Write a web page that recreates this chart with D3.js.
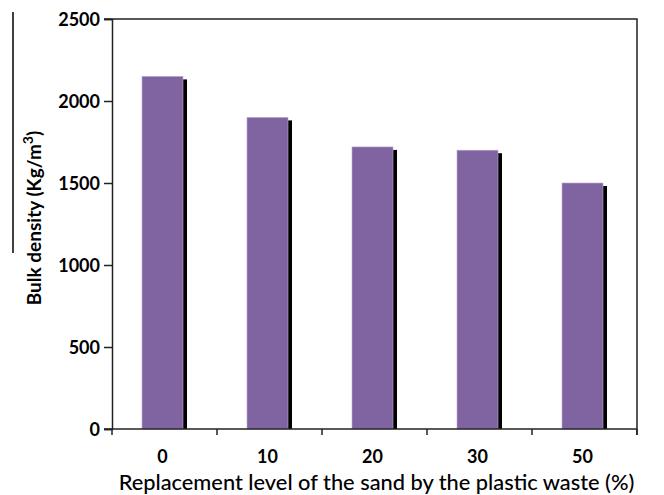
<!DOCTYPE html>
<html>
<head>
<meta charset="utf-8">
<script src="https://cdn.jsdelivr.net/npm/d3@7"></script>
<style>
  html, body { margin: 0; padding: 0; background: #fff; }
  svg { display: block; }
  text { font-family: Lato, "Open Sans", sans-serif; fill: #000; }
</style>
</head>
<body>
<svg id="chart" width="664" height="495"></svg>
<script>
// Bulk density of mixes by sand replacement level
const categories = ["0", "10", "20", "30", "50"];
const densities = [2150, 1900, 1720, 1700, 1500];
const yTicks = [0, 500, 1000, 1500, 2000, 2500];

const svg = d3.select("#chart");
const margin = { left: 112, right: 27, top: 19, bottom: 66 };
const W = 664, H = 495;
const x0 = margin.left, x1 = W - margin.right;
const y0 = H - margin.bottom, y1 = margin.top;

const x = d3.scaleBand().domain(categories).range([x0, x1]);
const y = d3.scaleLinear().domain([0, 2500]).range([y0, y1]);

const barW = 41, shadowDx = 4, shadowDy = 3;

// Stray rule at the far left
svg.append("line").attr("x1", 13).attr("x2", 13).attr("y1", 12).attr("y2", 253)
  .attr("stroke", "#000").attr("stroke-width", 1.5);

// Frame: top and right edges
svg.append("path")
  .attr("d", `M${x0 - 8},${y1}H${x1}V${y0 + 6}`)
  .attr("fill", "none").attr("stroke", "#222").attr("stroke-width", 1.5);

// Bar shadows then bars
const g = svg.append("g");
g.selectAll("rect.shadow").data(densities).join("rect")
  .attr("class", "shadow")
  .attr("x", (d, i) => x(categories[i]) + x.bandwidth() / 2 - barW / 2 - 2 + shadowDx)
  .attr("y", d => y(d) + shadowDy)
  .attr("width", barW)
  .attr("height", d => y0 - y(d) - shadowDy)
  .attr("fill", "#000");
g.selectAll("rect.bar").data(densities).join("rect")
  .attr("class", "bar")
  .attr("x", (d, i) => x(categories[i]) + x.bandwidth() / 2 - barW / 2 - 2)
  .attr("y", d => y(d))
  .attr("width", barW)
  .attr("height", d => y0 - y(d))
  .attr("fill", "#8064a2")
  .attr("stroke", "#b8a8d0").attr("stroke-width", 0.6);

// Y axis
const yAxis = d3.axisLeft(y).tickValues(yTicks).tickSize(8).tickPadding(4).tickFormat(d3.format("d"));
const ya = svg.append("g").attr("transform", `translate(${x0},0)`).call(yAxis);
ya.select(".domain").attr("stroke", "#222").attr("stroke-width", 1.5);
ya.selectAll(".tick line").attr("stroke", "#222").attr("stroke-width", 1.5);
ya.selectAll(".tick text").attr("font-size", 18).attr("font-weight", "bold")
  .attr("font-family", "Lato, sans-serif").attr("dy", "0.35em");

// X axis: ticks at category boundaries
const xa = svg.append("g").attr("transform", `translate(0,${y0})`);
xa.append("line").attr("x1", x0 - 8).attr("x2", x1).attr("y1", 0).attr("y2", 0)
  .attr("stroke", "#222").attr("stroke-width", 1.5);
const bounds = categories.map(c => x(c)).concat([x1]);
xa.selectAll("line.tk").data(bounds).join("line").attr("class", "tk")
  .attr("x1", d => d).attr("x2", d => d).attr("y1", 0).attr("y2", 6)
  .attr("stroke", "#222").attr("stroke-width", 1.5);
xa.selectAll("text.lbl").data(categories).join("text").attr("class", "lbl")
  .attr("x", d => x(d) + x.bandwidth() / 2 - 2)
  .attr("y", 34)
  .attr("text-anchor", "middle")
  .attr("font-size", 18).attr("font-weight", "bold")
  .text(d => d);

// Axis titles
svg.append("text")
  .attr("x", (x0 + x1) / 2 + 2).attr("y", 490)
  .attr("text-anchor", "middle")
  .attr("font-size", 21.8).attr("font-weight", 500)
  .text("Replacement level of the sand by the plastic waste (%)");

const yt = svg.append("text")
  .attr("transform", `translate(41,${(y0 + y1) / 2 - 6}) rotate(-90)`)
  .attr("text-anchor", "middle")
  .attr("font-size", 19).attr("font-weight", "bold");
yt.append("tspan").text("Bulk density (Kg/m");
yt.append("tspan").attr("dy", -8).attr("font-size", 14).text("3");
yt.append("tspan").attr("dy", 8).text(")");
</script>
</body>
</html>
